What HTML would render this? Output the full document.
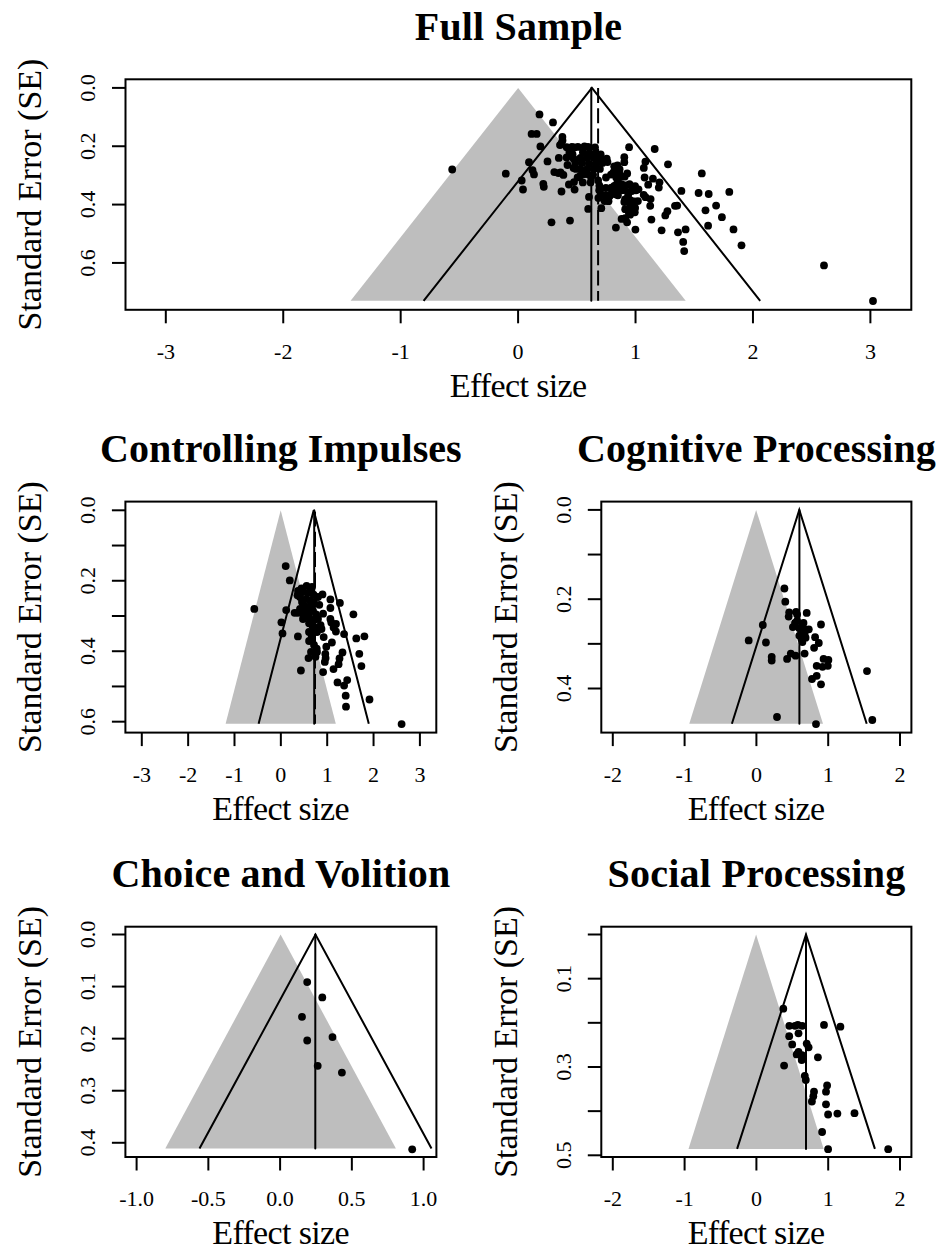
<!DOCTYPE html><html><head><meta charset="utf-8"><style>html,body{margin:0;padding:0;background:#fff;width:945px;height:1257px;overflow:hidden}svg{display:block}text{font-family:"Liberation Serif",serif;fill:#000}</style></head><body>
<svg width="945" height="1257" viewBox="0 0 945 1257">
<polygon points="350.60,300.80 518.15,87.90 685.70,300.80" fill="#bebebe"/>
<polyline points="423.60,300.80 591.90,87.90 760.20,300.80" fill="none" stroke="#000" stroke-width="2"/>
<line x1="591.30" y1="87.90" x2="591.30" y2="300.80" stroke="#000" stroke-width="2" stroke-linecap="round"/>
<line x1="598.10" y1="87.90" x2="598.10" y2="300.80" stroke="#000" stroke-width="2" stroke-dasharray="15 5.3" stroke-dashoffset="0"/>
<g fill="#000"><circle cx="539.5" cy="114.4" r="3.9"/><circle cx="553.0" cy="122.4" r="3.9"/><circle cx="531.6" cy="133.9" r="3.9"/><circle cx="536.7" cy="133.9" r="3.9"/><circle cx="540.4" cy="146.4" r="3.9"/><circle cx="562.4" cy="136.9" r="3.9"/><circle cx="562.5" cy="140.4" r="3.9"/><circle cx="560.0" cy="145.1" r="3.9"/><circle cx="566.7" cy="147.2" r="3.9"/><circle cx="574.2" cy="147.4" r="3.9"/><circle cx="584.5" cy="146.5" r="3.9"/><circle cx="595.0" cy="147.3" r="3.9"/><circle cx="572.5" cy="154.2" r="3.9"/><circle cx="582.9" cy="152.2" r="3.9"/><circle cx="558.8" cy="157.9" r="3.9"/><circle cx="547.5" cy="161.4" r="3.9"/><circle cx="554.3" cy="172.1" r="3.9"/><circle cx="558.4" cy="173.1" r="3.9"/><circle cx="563.4" cy="174.9" r="3.9"/><circle cx="543.3" cy="183.8" r="3.9"/><circle cx="567.5" cy="165.0" r="3.9"/><circle cx="566.6" cy="157.4" r="3.9"/><circle cx="561.5" cy="143.5" r="3.9"/><circle cx="529.0" cy="162.2" r="3.9"/><circle cx="532.5" cy="170.2" r="3.9"/><circle cx="534.0" cy="174.4" r="3.9"/><circle cx="521.7" cy="180.5" r="3.9"/><circle cx="523.0" cy="189.5" r="3.9"/><circle cx="560.6" cy="172.3" r="3.9"/><circle cx="561.5" cy="191.5" r="3.9"/><circle cx="568.9" cy="184.5" r="3.9"/><circle cx="574.6" cy="189.6" r="3.9"/><circle cx="551.5" cy="222.3" r="3.9"/><circle cx="570.0" cy="220.6" r="3.9"/><circle cx="588.2" cy="208.9" r="3.9"/><circle cx="589.0" cy="196.9" r="3.9"/><circle cx="601.3" cy="208.2" r="3.9"/><circle cx="615.9" cy="227.6" r="3.9"/><circle cx="635.4" cy="229.6" r="3.9"/><circle cx="629.1" cy="147.2" r="3.9"/><circle cx="624.3" cy="157.2" r="3.9"/><circle cx="624.3" cy="162.2" r="3.9"/><circle cx="627.2" cy="173.4" r="3.9"/><circle cx="654.7" cy="149.0" r="3.9"/><circle cx="668.0" cy="164.3" r="3.9"/><circle cx="645.4" cy="161.7" r="3.9"/><circle cx="643.8" cy="167.9" r="3.9"/><circle cx="644.6" cy="177.5" r="3.9"/><circle cx="652.9" cy="178.7" r="3.9"/><circle cx="659.5" cy="182.3" r="3.9"/><circle cx="648.2" cy="184.7" r="3.9"/><circle cx="658.8" cy="187.6" r="3.9"/><circle cx="643.7" cy="194.8" r="3.9"/><circle cx="650.6" cy="199.1" r="3.9"/><circle cx="650.2" cy="205.8" r="3.9"/><circle cx="651.4" cy="219.6" r="3.9"/><circle cx="661.6" cy="230.3" r="3.9"/><circle cx="667.4" cy="211.2" r="3.9"/><circle cx="665.3" cy="215.4" r="3.9"/><circle cx="675.0" cy="205.8" r="3.9"/><circle cx="678.0" cy="232.3" r="3.9"/><circle cx="621.6" cy="218.9" r="3.9"/><circle cx="627.1" cy="222.3" r="3.9"/><circle cx="571.9" cy="146.9" r="3.9"/><circle cx="577.9" cy="146.9" r="3.9"/><circle cx="588.0" cy="146.9" r="3.9"/><circle cx="569.4" cy="151.9" r="3.9"/><circle cx="588.9" cy="153.6" r="3.9"/><circle cx="595.6" cy="152.8" r="3.9"/><circle cx="600.7" cy="154.5" r="3.9"/><circle cx="573.6" cy="158.7" r="3.9"/><circle cx="580.4" cy="157.9" r="3.9"/><circle cx="587.2" cy="157.9" r="3.9"/><circle cx="594.0" cy="157.9" r="3.9"/><circle cx="600.7" cy="158.7" r="3.9"/><circle cx="606.7" cy="158.7" r="3.9"/><circle cx="575.3" cy="162.9" r="3.9"/><circle cx="582.1" cy="162.9" r="3.9"/><circle cx="588.9" cy="163.8" r="3.9"/><circle cx="595.6" cy="163.8" r="3.9"/><circle cx="602.4" cy="162.9" r="3.9"/><circle cx="607.5" cy="162.1" r="3.9"/><circle cx="614.2" cy="166.3" r="3.9"/><circle cx="619.6" cy="169.2" r="3.9"/><circle cx="573.6" cy="168.0" r="3.9"/><circle cx="580.4" cy="168.9" r="3.9"/><circle cx="587.2" cy="168.9" r="3.9"/><circle cx="594.0" cy="168.9" r="3.9"/><circle cx="599.9" cy="168.9" r="3.9"/><circle cx="580.4" cy="175.6" r="3.9"/><circle cx="587.2" cy="174.0" r="3.9"/><circle cx="593.1" cy="174.8" r="3.9"/><circle cx="613.4" cy="172.3" r="3.9"/><circle cx="619.4" cy="174.0" r="3.9"/><circle cx="619.5" cy="177.3" r="3.9"/><circle cx="574.0" cy="182.1" r="3.9"/><circle cx="582.8" cy="182.4" r="3.9"/><circle cx="590.6" cy="182.4" r="3.9"/><circle cx="599.3" cy="185.4" r="3.9"/><circle cx="605.9" cy="188.0" r="3.9"/><circle cx="614.3" cy="185.8" r="3.9"/><circle cx="621.3" cy="184.1" r="3.9"/><circle cx="625.5" cy="185.4" r="3.9"/><circle cx="645.5" cy="197.2" r="3.9"/><circle cx="625.2" cy="218.1" r="3.9"/><circle cx="624.3" cy="202.0" r="3.9"/><circle cx="630.6" cy="200.4" r="3.9"/><circle cx="637.9" cy="201.1" r="3.9"/><circle cx="625.2" cy="209.2" r="3.9"/><circle cx="632.3" cy="208.0" r="3.9"/><circle cx="634.8" cy="212.3" r="3.9"/><circle cx="628.9" cy="213.1" r="3.9"/><circle cx="635.1" cy="186.2" r="3.9"/><circle cx="636.0" cy="190.3" r="3.9"/><circle cx="629.1" cy="191.8" r="3.9"/><circle cx="629.5" cy="184.2" r="3.9"/><circle cx="622.9" cy="185.2" r="3.9"/><circle cx="622.9" cy="190.2" r="3.9"/><circle cx="617.9" cy="195.3" r="3.9"/><circle cx="608.5" cy="201.2" r="3.9"/><circle cx="598.4" cy="197.9" r="3.9"/><circle cx="606.0" cy="195.3" r="3.9"/><circle cx="611.9" cy="191.9" r="3.9"/><circle cx="599.2" cy="190.2" r="3.9"/><circle cx="598.1" cy="180.4" r="3.9"/><circle cx="606.0" cy="177.5" r="3.9"/><circle cx="616.2" cy="177.5" r="3.9"/><circle cx="624.6" cy="176.7" r="3.9"/><circle cx="616.9" cy="183.8" r="3.9"/><circle cx="543.8" cy="186.8" r="3.9"/><circle cx="505.8" cy="173.7" r="3.9"/><circle cx="452.2" cy="169.5" r="3.9"/><circle cx="701.8" cy="173.4" r="3.9"/><circle cx="681.4" cy="190.9" r="3.9"/><circle cx="698.6" cy="193.0" r="3.9"/><circle cx="708.7" cy="194.0" r="3.9"/><circle cx="729.3" cy="191.9" r="3.9"/><circle cx="716.1" cy="205.6" r="3.9"/><circle cx="677.2" cy="205.6" r="3.9"/><circle cx="705.5" cy="210.3" r="3.9"/><circle cx="721.9" cy="217.2" r="3.9"/><circle cx="708.1" cy="225.7" r="3.9"/><circle cx="733.5" cy="229.4" r="3.9"/><circle cx="741.5" cy="245.3" r="3.9"/><circle cx="685.6" cy="229.4" r="3.9"/><circle cx="683.2" cy="241.9" r="3.9"/><circle cx="684.2" cy="251.1" r="3.9"/><circle cx="617.5" cy="165.5" r="3.9"/><circle cx="618.4" cy="171.4" r="3.9"/><circle cx="824.0" cy="265.4" r="3.9"/><circle cx="873.0" cy="301.0" r="3.9"/><circle cx="611.4" cy="187.6" r="3.9"/><circle cx="601.3" cy="194.3" r="3.9"/><circle cx="609.7" cy="196.0" r="3.9"/><circle cx="604.7" cy="201.1" r="3.9"/><circle cx="625.0" cy="199.4" r="3.9"/><circle cx="630.1" cy="204.5" r="3.9"/><circle cx="635.1" cy="207.9" r="3.9"/><circle cx="630.1" cy="214.7" r="3.9"/><circle cx="616.5" cy="189.3" r="3.9"/><circle cx="631.8" cy="191.0" r="3.9"/><circle cx="638.5" cy="189.3" r="3.9"/><circle cx="591.1" cy="177.4" r="3.9"/><circle cx="584.3" cy="174.0" r="3.9"/><circle cx="577.6" cy="177.4" r="3.9"/><circle cx="575.9" cy="168.9" r="3.9"/><circle cx="611.0" cy="174.6" r="3.9"/><circle cx="620.5" cy="190.5" r="3.9"/><circle cx="615.4" cy="194.3" r="3.9"/><circle cx="628.1" cy="195.6" r="3.9"/><circle cx="634.4" cy="201.3" r="3.9"/></g>
<rect x="125.5" y="79.3" width="785.80" height="230.50" fill="none" stroke="#000" stroke-width="2"/>
<line x1="165.81" y1="309.8" x2="165.81" y2="323.30" stroke="#000" stroke-width="2"/>
<text x="165.81" y="358.80" font-size="22" text-anchor="middle">-3</text>
<line x1="283.24" y1="309.8" x2="283.24" y2="323.30" stroke="#000" stroke-width="2"/>
<text x="283.24" y="358.80" font-size="22" text-anchor="middle">-2</text>
<line x1="400.67" y1="309.8" x2="400.67" y2="323.30" stroke="#000" stroke-width="2"/>
<text x="400.67" y="358.80" font-size="22" text-anchor="middle">-1</text>
<line x1="518.10" y1="309.8" x2="518.10" y2="323.30" stroke="#000" stroke-width="2"/>
<text x="518.10" y="358.80" font-size="22" text-anchor="middle">0</text>
<line x1="635.53" y1="309.8" x2="635.53" y2="323.30" stroke="#000" stroke-width="2"/>
<text x="635.53" y="358.80" font-size="22" text-anchor="middle">1</text>
<line x1="752.96" y1="309.8" x2="752.96" y2="323.30" stroke="#000" stroke-width="2"/>
<text x="752.96" y="358.80" font-size="22" text-anchor="middle">2</text>
<line x1="870.39" y1="309.8" x2="870.39" y2="323.30" stroke="#000" stroke-width="2"/>
<text x="870.39" y="358.80" font-size="22" text-anchor="middle">3</text>
<line x1="112.00" y1="87.90" x2="125.5" y2="87.90" stroke="#000" stroke-width="2"/>
<line x1="112.00" y1="146.24" x2="125.5" y2="146.24" stroke="#000" stroke-width="2"/>
<line x1="112.00" y1="204.58" x2="125.5" y2="204.58" stroke="#000" stroke-width="2"/>
<line x1="112.00" y1="262.92" x2="125.5" y2="262.92" stroke="#000" stroke-width="2"/>
<text transform="translate(95.00,87.90) rotate(-90)" font-size="22" text-anchor="middle">0.0</text>
<text transform="translate(95.00,146.24) rotate(-90)" font-size="22" text-anchor="middle">0.2</text>
<text transform="translate(95.00,204.58) rotate(-90)" font-size="22" text-anchor="middle">0.4</text>
<text transform="translate(95.00,262.92) rotate(-90)" font-size="22" text-anchor="middle">0.6</text>
<text x="518.40" y="39.60" font-size="40" font-weight="bold" text-anchor="middle" textLength="207.19" lengthAdjust="spacing">Full Sample</text>
<text x="518.40" y="396.70" font-size="34" text-anchor="middle" textLength="137.29" lengthAdjust="spacing">Effect size</text>
<text transform="translate(40.80,194.55) rotate(-90)" font-size="34" text-anchor="middle">Standard Error (SE)</text>
<polygon points="225.60,723.80 280.70,510.30 335.80,723.80" fill="#bebebe"/>
<polyline points="258.60,723.80 313.70,510.30 368.80,723.80" fill="none" stroke="#000" stroke-width="2"/>
<line x1="314.20" y1="510.30" x2="314.20" y2="723.80" stroke="#000" stroke-width="2" stroke-linecap="round"/>
<line x1="315.00" y1="510.30" x2="315.00" y2="723.80" stroke="#000" stroke-width="2" stroke-dasharray="15 5.3" stroke-dashoffset="-1.2"/>
<g fill="#000"><circle cx="285.7" cy="566.1" r="3.9"/><circle cx="289.8" cy="580.4" r="3.9"/><circle cx="254.3" cy="608.9" r="3.9"/><circle cx="286.2" cy="610.1" r="3.9"/><circle cx="281.4" cy="622.3" r="3.9"/><circle cx="282.5" cy="633.4" r="3.9"/><circle cx="297.9" cy="636.4" r="3.9"/><circle cx="300.9" cy="670.5" r="3.9"/><circle cx="294.6" cy="612.8" r="3.9"/><circle cx="297.8" cy="612.8" r="3.9"/><circle cx="297.5" cy="595.3" r="3.9"/><circle cx="306.6" cy="585.8" r="3.9"/><circle cx="301.5" cy="588.3" r="3.9"/><circle cx="310.4" cy="590.2" r="3.9"/><circle cx="313.6" cy="594.7" r="3.9"/><circle cx="322.5" cy="594.4" r="3.9"/><circle cx="330.4" cy="599.4" r="3.9"/><circle cx="339.9" cy="602.9" r="3.9"/><circle cx="330.4" cy="608.0" r="3.9"/><circle cx="353.4" cy="614.3" r="3.9"/><circle cx="306.0" cy="599.1" r="3.9"/><circle cx="310.4" cy="600.4" r="3.9"/><circle cx="319.3" cy="604.8" r="3.9"/><circle cx="304.0" cy="605.5" r="3.9"/><circle cx="310.4" cy="605.5" r="3.9"/><circle cx="306.0" cy="611.8" r="3.9"/><circle cx="313.0" cy="610.6" r="3.9"/><circle cx="323.1" cy="613.7" r="3.9"/><circle cx="316.1" cy="614.4" r="3.9"/><circle cx="305.3" cy="616.3" r="3.9"/><circle cx="310.4" cy="619.4" r="3.9"/><circle cx="330.4" cy="618.9" r="3.9"/><circle cx="336.0" cy="624.0" r="3.9"/><circle cx="333.6" cy="627.5" r="3.9"/><circle cx="335.9" cy="631.5" r="3.9"/><circle cx="344.1" cy="634.1" r="3.9"/><circle cx="356.3" cy="638.4" r="3.9"/><circle cx="364.4" cy="636.3" r="3.9"/><circle cx="331.9" cy="642.5" r="3.9"/><circle cx="314.8" cy="627.1" r="3.9"/><circle cx="321.5" cy="629.0" r="3.9"/><circle cx="309.1" cy="623.2" r="3.9"/><circle cx="320.6" cy="625.1" r="3.9"/><circle cx="313.6" cy="630.2" r="3.9"/><circle cx="311.7" cy="635.9" r="3.9"/><circle cx="309.1" cy="641.0" r="3.9"/><circle cx="316.7" cy="648.6" r="3.9"/><circle cx="315.5" cy="656.8" r="3.9"/><circle cx="308.5" cy="658.1" r="3.9"/><circle cx="323.7" cy="637.1" r="3.9"/><circle cx="326.3" cy="646.7" r="3.9"/><circle cx="325.3" cy="654.0" r="3.9"/><circle cx="325.6" cy="658.1" r="3.9"/><circle cx="324.8" cy="661.9" r="3.9"/><circle cx="333.5" cy="669.1" r="3.9"/><circle cx="338.6" cy="664.2" r="3.9"/><circle cx="339.5" cy="658.4" r="3.9"/><circle cx="342.5" cy="652.5" r="3.9"/><circle cx="331.3" cy="622.5" r="3.9"/><circle cx="323.1" cy="672.1" r="3.9"/><circle cx="359.3" cy="653.8" r="3.9"/><circle cx="361.4" cy="666.1" r="3.9"/><circle cx="337.5" cy="682.4" r="3.9"/><circle cx="347.2" cy="680.1" r="3.9"/><circle cx="344.1" cy="685.6" r="3.9"/><circle cx="345.7" cy="695.7" r="3.9"/><circle cx="346.0" cy="706.7" r="3.9"/><circle cx="369.5" cy="699.5" r="3.9"/><circle cx="401.6" cy="724.1" r="3.9"/><circle cx="312.0" cy="587.0" r="3.9"/><circle cx="298.0" cy="591.0" r="3.9"/><circle cx="303.0" cy="592.0" r="3.9"/><circle cx="308.0" cy="593.0" r="3.9"/><circle cx="318.0" cy="597.0" r="3.9"/><circle cx="300.0" cy="597.0" r="3.9"/><circle cx="302.0" cy="602.0" r="3.9"/><circle cx="314.0" cy="603.0" r="3.9"/><circle cx="308.0" cy="608.0" r="3.9"/><circle cx="300.0" cy="609.0" r="3.9"/><circle cx="302.0" cy="613.0" r="3.9"/><circle cx="309.0" cy="614.0" r="3.9"/><circle cx="303.0" cy="619.0" r="3.9"/><circle cx="314.0" cy="620.0" r="3.9"/><circle cx="318.0" cy="619.0" r="3.9"/><circle cx="312.0" cy="625.0" r="3.9"/><circle cx="317.0" cy="632.0" r="3.9"/><circle cx="312.0" cy="640.0" r="3.9"/><circle cx="314.0" cy="645.0" r="3.9"/><circle cx="317.0" cy="652.0" r="3.9"/><circle cx="311.0" cy="652.0" r="3.9"/><circle cx="309.0" cy="632.0" r="3.9"/></g>
<rect x="125.4" y="501.6" width="310.90" height="231.00" fill="none" stroke="#000" stroke-width="2"/>
<line x1="141.80" y1="732.6" x2="141.80" y2="746.10" stroke="#000" stroke-width="2"/>
<text x="141.80" y="781.60" font-size="22" text-anchor="middle">-3</text>
<line x1="188.15" y1="732.6" x2="188.15" y2="746.10" stroke="#000" stroke-width="2"/>
<text x="188.15" y="781.60" font-size="22" text-anchor="middle">-2</text>
<line x1="234.50" y1="732.6" x2="234.50" y2="746.10" stroke="#000" stroke-width="2"/>
<text x="234.50" y="781.60" font-size="22" text-anchor="middle">-1</text>
<line x1="280.85" y1="732.6" x2="280.85" y2="746.10" stroke="#000" stroke-width="2"/>
<text x="280.85" y="781.60" font-size="22" text-anchor="middle">0</text>
<line x1="327.20" y1="732.6" x2="327.20" y2="746.10" stroke="#000" stroke-width="2"/>
<text x="327.20" y="781.60" font-size="22" text-anchor="middle">1</text>
<line x1="373.55" y1="732.6" x2="373.55" y2="746.10" stroke="#000" stroke-width="2"/>
<text x="373.55" y="781.60" font-size="22" text-anchor="middle">2</text>
<line x1="419.90" y1="732.6" x2="419.90" y2="746.10" stroke="#000" stroke-width="2"/>
<text x="419.90" y="781.60" font-size="22" text-anchor="middle">3</text>
<line x1="111.90" y1="510.30" x2="125.4" y2="510.30" stroke="#000" stroke-width="2"/>
<line x1="111.90" y1="545.53" x2="125.4" y2="545.53" stroke="#000" stroke-width="2"/>
<line x1="111.90" y1="580.76" x2="125.4" y2="580.76" stroke="#000" stroke-width="2"/>
<line x1="111.90" y1="615.99" x2="125.4" y2="615.99" stroke="#000" stroke-width="2"/>
<line x1="111.90" y1="651.22" x2="125.4" y2="651.22" stroke="#000" stroke-width="2"/>
<line x1="111.90" y1="686.45" x2="125.4" y2="686.45" stroke="#000" stroke-width="2"/>
<line x1="111.90" y1="721.68" x2="125.4" y2="721.68" stroke="#000" stroke-width="2"/>
<text transform="translate(94.90,510.30) rotate(-90)" font-size="22" text-anchor="middle">0.0</text>
<text transform="translate(94.90,580.76) rotate(-90)" font-size="22" text-anchor="middle">0.2</text>
<text transform="translate(94.90,651.22) rotate(-90)" font-size="22" text-anchor="middle">0.4</text>
<text transform="translate(94.90,721.68) rotate(-90)" font-size="22" text-anchor="middle">0.6</text>
<text x="280.85" y="461.90" font-size="40" font-weight="bold" text-anchor="middle" textLength="361.65" lengthAdjust="spacing">Controlling Impulses</text>
<text x="280.85" y="819.50" font-size="34" text-anchor="middle" textLength="137.29" lengthAdjust="spacing">Effect size</text>
<text transform="translate(40.70,617.10) rotate(-90)" font-size="34" text-anchor="middle">Standard Error (SE)</text>
<polygon points="689.30,723.80 756.15,509.90 823.00,723.80" fill="#bebebe"/>
<polyline points="731.90,723.80 799.30,509.90 866.70,723.80" fill="none" stroke="#000" stroke-width="2"/>
<line x1="799.40" y1="509.90" x2="799.40" y2="723.80" stroke="#000" stroke-width="2" stroke-linecap="round"/>
<g fill="#000"><circle cx="784.4" cy="588.5" r="3.9"/><circle cx="785.3" cy="601.7" r="3.9"/><circle cx="789.2" cy="612.3" r="3.9"/><circle cx="796.1" cy="611.8" r="3.9"/><circle cx="788.7" cy="616.6" r="3.9"/><circle cx="806.7" cy="612.9" r="3.9"/><circle cx="797.1" cy="620.8" r="3.9"/><circle cx="792.9" cy="627.1" r="3.9"/><circle cx="799.3" cy="628.2" r="3.9"/><circle cx="808.8" cy="629.3" r="3.9"/><circle cx="804.6" cy="633.5" r="3.9"/><circle cx="801.4" cy="638.8" r="3.9"/><circle cx="802.4" cy="642.0" r="3.9"/><circle cx="821.0" cy="624.5" r="3.9"/><circle cx="815.1" cy="637.2" r="3.9"/><circle cx="818.8" cy="643.0" r="3.9"/><circle cx="814.1" cy="647.8" r="3.9"/><circle cx="762.8" cy="625.0" r="3.9"/><circle cx="748.7" cy="640.4" r="3.9"/><circle cx="765.9" cy="642.5" r="3.9"/><circle cx="771.7" cy="656.8" r="3.9"/><circle cx="771.7" cy="660.5" r="3.9"/><circle cx="790.8" cy="653.6" r="3.9"/><circle cx="795.6" cy="655.7" r="3.9"/><circle cx="787.1" cy="658.9" r="3.9"/><circle cx="804.6" cy="653.6" r="3.9"/><circle cx="823.6" cy="658.9" r="3.9"/><circle cx="828.4" cy="660.0" r="3.9"/><circle cx="816.7" cy="665.8" r="3.9"/><circle cx="822.5" cy="666.8" r="3.9"/><circle cx="827.8" cy="665.8" r="3.9"/><circle cx="816.7" cy="675.8" r="3.9"/><circle cx="812.0" cy="679.0" r="3.9"/><circle cx="821.0" cy="684.3" r="3.9"/><circle cx="867.0" cy="671.1" r="3.9"/><circle cx="872.3" cy="720.0" r="3.9"/><circle cx="816.0" cy="724.1" r="3.9"/><circle cx="777.0" cy="717.0" r="3.9"/><circle cx="803.5" cy="622.9" r="3.9"/><circle cx="805.6" cy="637.7" r="3.9"/><circle cx="799.3" cy="635.6" r="3.9"/><circle cx="795.0" cy="622.9" r="3.9"/><circle cx="797.1" cy="614.4" r="3.9"/><circle cx="804.6" cy="629.3" r="3.9"/></g>
<rect x="601.3" y="501.6" width="310.10" height="231.00" fill="none" stroke="#000" stroke-width="2"/>
<line x1="612.80" y1="732.6" x2="612.80" y2="746.10" stroke="#000" stroke-width="2"/>
<text x="612.80" y="781.60" font-size="22" text-anchor="middle">-2</text>
<line x1="684.60" y1="732.6" x2="684.60" y2="746.10" stroke="#000" stroke-width="2"/>
<text x="684.60" y="781.60" font-size="22" text-anchor="middle">-1</text>
<line x1="756.40" y1="732.6" x2="756.40" y2="746.10" stroke="#000" stroke-width="2"/>
<text x="756.40" y="781.60" font-size="22" text-anchor="middle">0</text>
<line x1="828.20" y1="732.6" x2="828.20" y2="746.10" stroke="#000" stroke-width="2"/>
<text x="828.20" y="781.60" font-size="22" text-anchor="middle">1</text>
<line x1="900.00" y1="732.6" x2="900.00" y2="746.10" stroke="#000" stroke-width="2"/>
<text x="900.00" y="781.60" font-size="22" text-anchor="middle">2</text>
<line x1="587.80" y1="509.90" x2="601.3" y2="509.90" stroke="#000" stroke-width="2"/>
<line x1="587.80" y1="554.55" x2="601.3" y2="554.55" stroke="#000" stroke-width="2"/>
<line x1="587.80" y1="599.20" x2="601.3" y2="599.20" stroke="#000" stroke-width="2"/>
<line x1="587.80" y1="643.85" x2="601.3" y2="643.85" stroke="#000" stroke-width="2"/>
<line x1="587.80" y1="688.50" x2="601.3" y2="688.50" stroke="#000" stroke-width="2"/>
<text transform="translate(570.80,509.90) rotate(-90)" font-size="22" text-anchor="middle">0.0</text>
<text transform="translate(570.80,599.20) rotate(-90)" font-size="22" text-anchor="middle">0.2</text>
<text transform="translate(570.80,688.50) rotate(-90)" font-size="22" text-anchor="middle">0.4</text>
<text x="756.35" y="461.90" font-size="40" font-weight="bold" text-anchor="middle" textLength="358.90" lengthAdjust="spacing">Cognitive Processing</text>
<text x="756.35" y="819.50" font-size="34" text-anchor="middle" textLength="137.29" lengthAdjust="spacing">Effect size</text>
<text transform="translate(516.60,617.10) rotate(-90)" font-size="34" text-anchor="middle">Standard Error (SE)</text>
<polygon points="165.30,1148.60 280.60,934.50 395.90,1148.60" fill="#bebebe"/>
<polyline points="199.50,1148.60 315.50,934.50 431.50,1148.60" fill="none" stroke="#000" stroke-width="2"/>
<line x1="315.30" y1="934.50" x2="315.30" y2="1148.60" stroke="#000" stroke-width="2" stroke-linecap="round"/>
<g fill="#000"><circle cx="307.2" cy="982.1" r="3.9"/><circle cx="322.3" cy="997.4" r="3.9"/><circle cx="302.0" cy="1016.8" r="3.9"/><circle cx="307.2" cy="1040.5" r="3.9"/><circle cx="332.5" cy="1037.1" r="3.9"/><circle cx="317.7" cy="1065.8" r="3.9"/><circle cx="341.9" cy="1072.6" r="3.9"/><circle cx="412.2" cy="1149.3" r="3.9"/></g>
<rect x="125.4" y="926.7" width="311.00" height="230.30" fill="none" stroke="#000" stroke-width="2"/>
<line x1="136.60" y1="1157.0" x2="136.60" y2="1170.50" stroke="#000" stroke-width="2"/>
<text x="136.60" y="1206.00" font-size="22" text-anchor="middle">-1.0</text>
<line x1="208.35" y1="1157.0" x2="208.35" y2="1170.50" stroke="#000" stroke-width="2"/>
<text x="208.35" y="1206.00" font-size="22" text-anchor="middle">-0.5</text>
<line x1="280.10" y1="1157.0" x2="280.10" y2="1170.50" stroke="#000" stroke-width="2"/>
<text x="280.10" y="1206.00" font-size="22" text-anchor="middle">0.0</text>
<line x1="351.85" y1="1157.0" x2="351.85" y2="1170.50" stroke="#000" stroke-width="2"/>
<text x="351.85" y="1206.00" font-size="22" text-anchor="middle">0.5</text>
<line x1="423.60" y1="1157.0" x2="423.60" y2="1170.50" stroke="#000" stroke-width="2"/>
<text x="423.60" y="1206.00" font-size="22" text-anchor="middle">1.0</text>
<line x1="111.90" y1="934.50" x2="125.4" y2="934.50" stroke="#000" stroke-width="2"/>
<line x1="111.90" y1="986.57" x2="125.4" y2="986.57" stroke="#000" stroke-width="2"/>
<line x1="111.90" y1="1038.64" x2="125.4" y2="1038.64" stroke="#000" stroke-width="2"/>
<line x1="111.90" y1="1090.71" x2="125.4" y2="1090.71" stroke="#000" stroke-width="2"/>
<line x1="111.90" y1="1142.78" x2="125.4" y2="1142.78" stroke="#000" stroke-width="2"/>
<text transform="translate(94.90,934.50) rotate(-90)" font-size="22" text-anchor="middle">0.0</text>
<text transform="translate(94.90,986.57) rotate(-90)" font-size="22" text-anchor="middle">0.1</text>
<text transform="translate(94.90,1038.64) rotate(-90)" font-size="22" text-anchor="middle">0.2</text>
<text transform="translate(94.90,1090.71) rotate(-90)" font-size="22" text-anchor="middle">0.3</text>
<text transform="translate(94.90,1142.78) rotate(-90)" font-size="22" text-anchor="middle">0.4</text>
<text x="280.90" y="887.00" font-size="40" font-weight="bold" text-anchor="middle" textLength="338.67" lengthAdjust="spacing">Choice and Volition</text>
<text x="280.90" y="1243.90" font-size="34" text-anchor="middle" textLength="137.29" lengthAdjust="spacing">Effect size</text>
<text transform="translate(40.70,1041.85) rotate(-90)" font-size="34" text-anchor="middle">Standard Error (SE)</text>
<polygon points="688.50,1148.90 756.10,934.50 823.70,1148.90" fill="#bebebe"/>
<polyline points="737.10,1148.90 806.00,934.50 874.90,1148.90" fill="none" stroke="#000" stroke-width="2"/>
<line x1="806.00" y1="934.50" x2="806.00" y2="1148.90" stroke="#000" stroke-width="2" stroke-linecap="round"/>
<g fill="#000"><circle cx="783.3" cy="1008.7" r="3.9"/><circle cx="789.3" cy="1025.8" r="3.9"/><circle cx="795.0" cy="1025.8" r="3.9"/><circle cx="797.8" cy="1024.8" r="3.9"/><circle cx="802.2" cy="1025.8" r="3.9"/><circle cx="824.0" cy="1024.9" r="3.9"/><circle cx="840.4" cy="1026.7" r="3.9"/><circle cx="798.5" cy="1033.3" r="3.9"/><circle cx="789.2" cy="1036.2" r="3.9"/><circle cx="792.2" cy="1044.4" r="3.9"/><circle cx="806.7" cy="1043.6" r="3.9"/><circle cx="808.6" cy="1047.3" r="3.9"/><circle cx="798.5" cy="1052.0" r="3.9"/><circle cx="796.7" cy="1054.4" r="3.9"/><circle cx="802.0" cy="1055.2" r="3.9"/><circle cx="801.7" cy="1060.0" r="3.9"/><circle cx="817.9" cy="1057.3" r="3.9"/><circle cx="784.1" cy="1065.6" r="3.9"/><circle cx="804.8" cy="1075.8" r="3.9"/><circle cx="805.8" cy="1080.0" r="3.9"/><circle cx="827.1" cy="1085.5" r="3.9"/><circle cx="826.0" cy="1091.7" r="3.9"/><circle cx="814.0" cy="1091.7" r="3.9"/><circle cx="813.3" cy="1096.3" r="3.9"/><circle cx="811.9" cy="1101.5" r="3.9"/><circle cx="826.0" cy="1104.3" r="3.9"/><circle cx="828.1" cy="1114.5" r="3.9"/><circle cx="837.4" cy="1113.6" r="3.9"/><circle cx="854.5" cy="1113.2" r="3.9"/><circle cx="822.1" cy="1132.0" r="3.9"/><circle cx="828.1" cy="1149.2" r="3.9"/><circle cx="888.2" cy="1149.2" r="3.9"/></g>
<rect x="601.3" y="926.7" width="310.10" height="230.30" fill="none" stroke="#000" stroke-width="2"/>
<line x1="612.80" y1="1157.0" x2="612.80" y2="1170.50" stroke="#000" stroke-width="2"/>
<text x="612.80" y="1206.00" font-size="22" text-anchor="middle">-2</text>
<line x1="684.60" y1="1157.0" x2="684.60" y2="1170.50" stroke="#000" stroke-width="2"/>
<text x="684.60" y="1206.00" font-size="22" text-anchor="middle">-1</text>
<line x1="756.40" y1="1157.0" x2="756.40" y2="1170.50" stroke="#000" stroke-width="2"/>
<text x="756.40" y="1206.00" font-size="22" text-anchor="middle">0</text>
<line x1="828.20" y1="1157.0" x2="828.20" y2="1170.50" stroke="#000" stroke-width="2"/>
<text x="828.20" y="1206.00" font-size="22" text-anchor="middle">1</text>
<line x1="900.00" y1="1157.0" x2="900.00" y2="1170.50" stroke="#000" stroke-width="2"/>
<text x="900.00" y="1206.00" font-size="22" text-anchor="middle">2</text>
<line x1="587.80" y1="934.50" x2="601.3" y2="934.50" stroke="#000" stroke-width="2"/>
<line x1="587.80" y1="978.66" x2="601.3" y2="978.66" stroke="#000" stroke-width="2"/>
<line x1="587.80" y1="1022.82" x2="601.3" y2="1022.82" stroke="#000" stroke-width="2"/>
<line x1="587.80" y1="1066.98" x2="601.3" y2="1066.98" stroke="#000" stroke-width="2"/>
<line x1="587.80" y1="1111.14" x2="601.3" y2="1111.14" stroke="#000" stroke-width="2"/>
<line x1="587.80" y1="1155.30" x2="601.3" y2="1155.30" stroke="#000" stroke-width="2"/>
<text transform="translate(570.80,978.66) rotate(-90)" font-size="22" text-anchor="middle">0.1</text>
<text transform="translate(570.80,1066.98) rotate(-90)" font-size="22" text-anchor="middle">0.3</text>
<text transform="translate(570.80,1155.30) rotate(-90)" font-size="22" text-anchor="middle">0.5</text>
<text x="756.35" y="887.00" font-size="40" font-weight="bold" text-anchor="middle" textLength="297.69" lengthAdjust="spacing">Social Processing</text>
<text x="756.35" y="1243.90" font-size="34" text-anchor="middle" textLength="137.29" lengthAdjust="spacing">Effect size</text>
<text transform="translate(516.60,1041.85) rotate(-90)" font-size="34" text-anchor="middle">Standard Error (SE)</text>
</svg></body></html>
